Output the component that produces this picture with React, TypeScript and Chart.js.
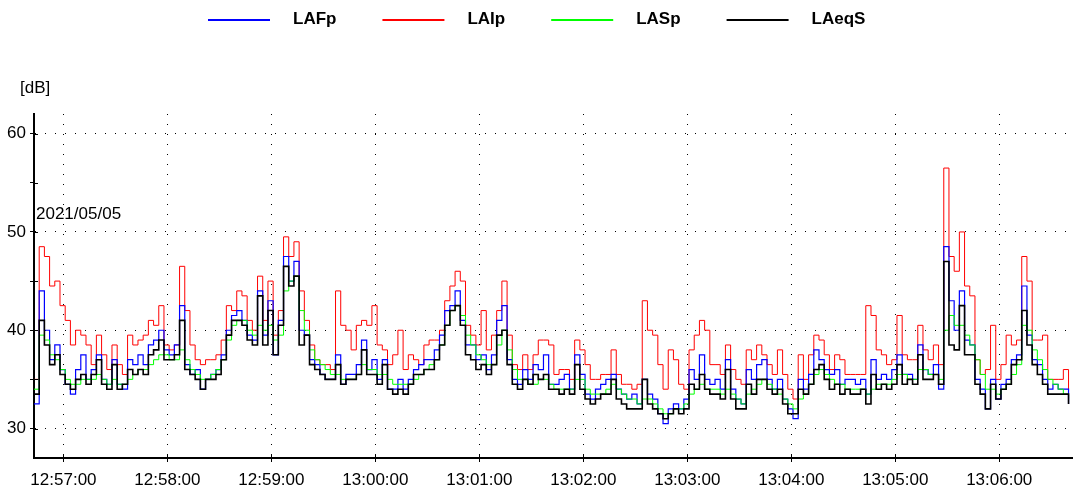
import React, { useEffect, useRef } from "react";
import { Chart, registerables } from "chart.js";

Chart.register(...registerables);

// ---- Data ----
const SERIES_NAMES = ["LAFp", "LAIp", "LASp", "LAeqS"];
const SERIES_COLORS = ["#0000ff", "#ff0000", "#00ff00", "#000000"];
const SERIES_WIDTHS = [1.2, 1, 1, 1.6];

const START_TIME = "12:56:43";
const SAMPLE_STEP_S = 3;
const X_MIN_TIME = "12:56:43";
const X_MAX_TIME = "13:06:42";
const X_TICK_LABELS = [
  "12:57:00", "12:58:00", "12:59:00", "13:00:00", "13:01:00",
  "13:02:00", "13:03:00", "13:04:00", "13:05:00", "13:06:00",
];
const Y_MIN = 27;
const Y_MAX = 62;
const Y_TICKS = [30, 35, 40, 45, 50, 55, 60];
const Y_TICK_LABELS = ["30", "", "40", "", "50", "", "60"];
const UNIT_LABEL = "[dB]";
const DATE_LABEL = "2021/05/05";

const LAFp = [
  32.5, 44.0, 40.0, 37.0, 38.5, 36.0, 34.5, 33.5, 36.0, 37.5,
  35.0, 36.0, 37.5, 35.0, 34.5, 37.0, 34.5, 34.0, 37.0, 36.5,
  37.5, 36.5, 38.5, 39.0, 40.0, 38.0, 37.5, 38.5, 42.5, 36.5,
  35.5, 36.0, 34.0, 35.0, 35.5, 36.0, 37.5, 40.0, 41.5, 42.0,
  41.0, 39.5, 39.0, 44.0, 39.5, 43.0, 37.5, 41.0, 47.5, 45.0,
  47.0, 40.0, 39.5, 37.0, 36.5, 35.5, 35.0, 35.0, 37.5, 34.5,
  35.5, 35.5, 36.5, 39.0, 36.0, 37.0, 35.0, 37.0, 34.0, 34.0,
  35.0, 34.0, 35.0, 36.0, 36.5, 37.0, 37.0, 38.0, 39.5, 42.0,
  42.5, 44.0, 41.0, 38.5, 38.5, 37.0, 37.5, 36.0, 37.5, 41.0,
  42.5, 37.0, 35.0, 34.5, 36.0, 35.0, 36.5, 36.0, 37.5, 34.5,
  34.5, 35.0, 35.5, 34.0, 37.5, 35.5, 33.5, 33.0, 34.0, 34.5,
  35.0, 35.5, 34.0, 33.5, 33.0, 33.5, 32.5, 35.0, 33.5, 33.0,
  31.5, 30.5, 32.0, 32.5, 32.0, 33.0, 36.0, 35.0, 37.5, 35.0,
  34.5, 35.0, 34.0, 37.0, 34.0, 33.0, 32.5, 36.0, 35.0, 36.5,
  37.0, 35.0, 34.0, 35.0, 33.0, 32.0, 31.0, 35.0, 34.0, 35.5,
  38.0, 37.0, 36.0, 35.5, 36.0, 34.5, 35.0, 35.0, 34.5, 35.0,
  33.5, 37.0, 35.0, 35.5, 35.0, 36.0, 37.5, 35.5, 35.5, 35.0,
  38.5, 36.0, 35.5, 36.5, 34.0, 48.5, 43.0, 40.0, 44.0, 39.0,
  38.5, 35.0, 34.0, 32.0, 35.0, 33.0, 34.5, 35.0, 37.0, 37.5,
  44.5, 39.5, 37.0, 36.5, 35.0, 34.0, 34.5, 34.0, 34.0, 32.5,
];

const LAIp = [
  35.0, 48.5, 47.5, 44.5, 45.0, 42.5, 41.0, 38.5, 40.0, 39.5,
  38.5, 36.5, 39.5, 37.5, 36.0, 38.5, 36.5, 35.5, 39.5, 38.5,
  39.0, 39.5, 41.0, 40.5, 42.5, 38.5, 38.0, 38.5, 46.5, 42.0,
  38.5, 37.0, 36.5, 37.0, 37.0, 37.5, 39.0, 42.5, 42.0, 44.0,
  43.5, 41.0, 40.0, 45.5, 41.0, 45.0, 39.5, 42.0, 49.5, 47.5,
  49.0, 44.0, 41.0, 38.5, 37.0, 36.5, 36.5, 36.0, 44.0, 40.5,
  40.0, 38.0, 40.5, 41.0, 40.5, 42.5, 38.5, 38.0, 36.5, 37.5,
  40.0, 36.0, 37.5, 37.0, 36.5, 38.5, 39.0, 39.0, 40.0, 43.0,
  44.5, 46.0, 45.0, 40.5, 39.5, 38.5, 42.0, 38.0, 39.5, 42.0,
  45.0, 39.5, 36.5, 36.0, 37.5, 36.0, 37.5, 39.0, 39.0, 38.5,
  35.5, 36.0, 36.0, 35.0, 39.0, 38.0, 36.5, 35.0, 35.0, 35.5,
  35.5, 38.0, 35.5, 34.5, 34.5, 34.0, 34.5, 43.0, 40.0, 39.5,
  36.5, 34.0, 38.0, 37.0, 34.5, 34.0, 38.0, 39.5, 41.0, 40.0,
  36.5, 36.5, 35.5, 38.5, 36.0, 35.0, 34.5, 38.0, 37.0, 38.5,
  37.5, 36.5, 35.5, 38.0, 35.5, 34.0, 33.0, 37.5, 35.0, 37.5,
  39.5, 39.0, 37.5, 36.0, 37.5, 37.0, 35.5, 35.5, 35.5, 35.5,
  42.5, 41.5, 38.0, 37.5, 36.5, 37.0, 41.5, 37.5, 37.0, 37.0,
  40.5, 38.0, 37.0, 38.5, 36.5, 56.5, 47.5, 46.0, 50.0, 44.5,
  43.5, 37.0, 35.5, 36.0, 40.5, 35.0, 36.5, 39.5, 38.5, 39.0,
  47.5, 45.0, 39.0, 39.0, 39.5, 35.0, 35.0, 35.0, 36.0, 34.0,
];

const LASp = [
  34.0, 39.5, 39.0, 37.5, 37.0, 36.0, 35.0, 34.5, 34.5, 35.0,
  35.0, 35.0, 35.5, 35.0, 34.5, 35.0, 34.5, 34.5, 35.0, 35.5,
  36.0, 36.0, 36.5, 37.0, 37.5, 37.5, 37.0, 37.0, 38.0, 37.0,
  36.0, 35.5, 35.0, 35.0, 35.5, 36.0, 37.0, 39.0, 40.5, 41.0,
  41.0, 40.0, 39.5, 40.5, 40.0, 40.5, 39.0, 39.5, 44.0, 45.0,
  45.5, 42.0, 40.0, 38.0, 37.0, 36.5, 36.0, 35.5, 35.5, 35.0,
  35.0, 35.0, 35.5, 36.5, 36.0, 36.0, 35.5, 35.5, 35.0, 34.5,
  34.5, 34.5, 34.5, 35.0, 35.5, 36.0, 36.5, 37.0, 38.5, 40.5,
  42.0, 42.5, 41.5, 39.5, 38.5, 37.5, 37.0, 36.5, 36.5, 38.5,
  40.0, 38.0, 36.0, 35.0, 35.0, 34.5, 34.5, 35.0, 35.0, 34.5,
  34.0, 34.0, 34.0, 34.0, 35.0, 35.0, 34.0, 33.5, 33.5, 33.5,
  34.0, 34.5, 34.0, 33.5, 33.0, 33.0, 32.5, 33.0, 33.0, 32.5,
  32.0, 31.5, 31.5, 32.0, 32.0, 32.5, 33.5, 34.0, 34.5, 34.0,
  34.0, 34.0, 33.5, 34.0, 33.5, 33.0, 32.5, 33.5, 34.0, 34.5,
  35.0, 34.5, 34.0, 33.5, 33.0, 32.5, 32.0, 33.0, 33.5, 34.5,
  35.5, 36.0, 35.5, 35.0, 34.5, 34.5, 34.0, 34.0, 34.0, 34.0,
  33.5, 34.0, 34.5, 34.5, 34.5, 35.0, 35.5, 35.5, 35.0, 35.0,
  36.0, 36.0, 35.5, 35.5, 35.0, 40.0, 41.5, 40.5, 40.5, 39.5,
  38.5, 37.0, 35.5, 34.0, 34.0, 33.5, 34.0, 34.5, 35.5, 36.5,
  40.5, 40.0, 38.0, 37.0, 36.0, 35.0, 34.5, 34.0, 33.5, 33.0,
];

const LAeqS = [
  33.5, 41.0, 38.5, 36.5, 37.5, 35.5, 34.5, 34.0, 35.0, 35.5,
  34.5, 35.5, 37.0, 34.5, 34.0, 36.5, 34.0, 34.5, 36.0, 35.5,
  36.0, 35.5, 37.5, 38.0, 39.0, 37.0, 37.0, 37.5, 41.0, 36.0,
  35.5, 35.0, 34.0, 35.0, 35.0, 35.5, 37.0, 39.5, 41.0, 41.0,
  40.5, 39.0, 38.5, 43.5, 38.5, 42.0, 37.5, 40.5, 46.5, 44.5,
  45.5, 38.5, 39.5, 36.5, 36.0, 35.5, 35.0, 35.0, 36.5, 34.5,
  35.0, 35.0, 35.5, 38.0, 35.5, 35.5, 34.5, 36.5, 34.0, 33.5,
  34.0, 33.5, 34.5, 35.5, 35.5, 36.0, 36.0, 37.0, 38.5, 40.5,
  42.0, 42.5, 40.5, 37.5, 37.0, 36.0, 36.5, 35.5, 36.5, 39.5,
  40.0, 36.5, 34.5, 34.0, 35.0, 34.5, 35.5, 35.0, 35.5, 34.0,
  34.0, 33.5, 34.0, 33.5, 36.5, 34.0, 33.0, 32.5, 33.0, 33.5,
  33.5, 35.0, 33.0, 32.5, 32.0, 32.0, 32.0, 35.0, 32.5, 32.0,
  31.5, 31.0, 31.5, 32.0, 31.5, 32.0, 34.5, 34.0, 35.5, 34.0,
  33.5, 33.5, 33.0, 36.0, 33.0, 32.0, 32.0, 34.5, 33.5, 35.0,
  35.0, 34.0, 33.5, 34.0, 32.5, 31.5, 31.5, 34.0, 33.5, 34.5,
  36.0, 36.5, 35.0, 34.0, 34.5, 33.5, 34.0, 33.5, 33.5, 34.0,
  32.5, 35.5, 34.0, 34.5, 34.0, 34.5, 36.5, 34.5, 35.0, 34.5,
  37.5, 35.0, 35.0, 35.5, 34.5, 47.0, 38.5, 38.0, 42.5, 37.5,
  37.5, 34.5, 33.5, 32.0, 34.5, 33.0, 34.0, 34.5, 36.5, 37.0,
  42.0, 38.5, 36.5, 35.5, 34.5, 33.5, 33.5, 33.5, 33.5, 32.5,
];

const SERIES_VALUES = [LAFp, LAIp, LASp, LAeqS];
const DRAW_ORDER = [2, 3, 1, 0]; // lower = drawn on top

// ---- helpers ----
const toSec = (s: string) => {
  const [h, m, sec] = s.split(":").map(Number);
  return h * 3600 + m * 60 + sec;
};
const pad2 = (n: number) => String(n).padStart(2, "0");
const fmtTime = (v: number) => {
  const h = Math.floor(v / 3600);
  const m = Math.floor((v % 3600) / 60);
  const s = Math.round(v % 60);
  return `${pad2(h)}:${pad2(m)}:${pad2(s)}`;
};

const FONT = "'Liberation Sans', Arial, sans-serif";

const decorPlugin = {
  id: "decor",
  afterDraw(chart: any) {
    const { ctx, chartArea, scales } = chart;
    ctx.save();
    // inner tick marks (ticks cross the axes)
    ctx.strokeStyle = "#000";
    ctx.lineWidth = 1;
    scales.x.ticks.forEach((t: any) => {
      const px = Math.round(scales.x.getPixelForValue(t.value)) + 0.5;
      ctx.beginPath();
      ctx.moveTo(px, chartArea.bottom);
      ctx.lineTo(px, chartArea.bottom - 4);
      ctx.stroke();
    });
    scales.y.ticks.forEach((t: any) => {
      const py = Math.round(scales.y.getPixelForValue(t.value)) + 0.5;
      ctx.beginPath();
      ctx.moveTo(chartArea.left, py);
      ctx.lineTo(chartArea.left + 4, py);
      ctx.stroke();
    });

    // unit and date labels
    ctx.fillStyle = "#000";
    ctx.font = `17px ${FONT}`;
    ctx.textAlign = "left";
    ctx.textBaseline = "middle";
    ctx.fillText(UNIT_LABEL, 20, chartArea.top - 26);
    ctx.fillText(DATE_LABEL, chartArea.left + 2, chartArea.top + 100);

    // legend
    const lineLen = 62;
    const textGap = 23;
    const itemGap = 46;
    ctx.font = `bold 17px ${FONT}`;
    const widths = SERIES_NAMES.map(
      (n) => lineLen + textGap + ctx.measureText(n).width
    );
    const total = widths.reduce((a, b) => a + b, 0) + itemGap * (widths.length - 1);
    let x = Math.round((chart.width - total) / 2);
    const ly = 19;
    SERIES_NAMES.forEach((n, i) => {
      ctx.strokeStyle = SERIES_COLORS[i];
      ctx.lineWidth = 2;
      ctx.beginPath();
      ctx.moveTo(x, ly + 1);
      ctx.lineTo(x + lineLen, ly + 1);
      ctx.stroke();
      ctx.fillStyle = "#000";
      ctx.fillText(n, x + lineLen + textGap, ly);
      x += widths[i] + itemGap;
    });
    ctx.restore();
  },
};

export default function App() {
  const ref = useRef<HTMLCanvasElement | null>(null);

  useEffect(() => {
    if (!ref.current) return;
    const start = toSec(START_TIME);
    const datasets = SERIES_NAMES.map((name, k) => ({
      label: name,
      data: SERIES_VALUES[k].map((v, i) => ({ x: start + i * SAMPLE_STEP_S, y: v })),
      borderColor: SERIES_COLORS[k],
      backgroundColor: SERIES_COLORS[k],
      borderWidth: SERIES_WIDTHS[k],
      pointRadius: 0,
      stepped: true,
      fill: false,
      order: DRAW_ORDER[k],
    }));

    const chart = new Chart(ref.current, {
      type: "line",
      data: { datasets },
      options: {
        animation: false,
        responsive: false,
        layout: { padding: { top: 114, right: 1, left: 0, bottom: 0 } },
        plugins: {
          legend: { display: false },
          tooltip: { enabled: false },
          title: { display: false },
        },
        scales: {
          x: {
            type: "linear",
            min: toSec(X_MIN_TIME),
            max: toSec(X_MAX_TIME),
            afterBuildTicks: (scale: any) => {
              scale.ticks = X_TICK_LABELS.map((l) => ({ value: toSec(l) }));
            },
            afterFit: (scale: any) => {
              scale.height = 36;
            },
            ticks: {
              autoSkip: false,
              maxRotation: 0,
              color: "#000",
              padding: 8,
              font: { family: FONT, size: 17 },
              callback: (v: any) => fmtTime(Number(v)),
            },
            grid: {
              color: "#000",
              lineWidth: 1,
              tickLength: 4,
              tickColor: "#000",
            },
            border: { display: true, color: "#000", width: 2, dash: [1, 9] },
          },
          y: {
            type: "linear",
            min: Y_MIN,
            max: Y_MAX,
            afterBuildTicks: (scale: any) => {
              scale.ticks = Y_TICKS.map((v) => ({ value: v }));
            },
            afterFit: (scale: any) => {
              scale.width = 34;
            },
            ticks: {
              autoSkip: false,
              color: "#000",
              padding: 4,
              font: { family: FONT, size: 17 },
              callback: (v: any) => {
                const idx = Y_TICKS.indexOf(Number(v));
                return idx >= 0 ? Y_TICK_LABELS[idx] : "";
              },
            },
            grid: {
              color: (c: any) =>
                c.tick && Y_TICK_LABELS[Y_TICKS.indexOf(c.tick.value)] ? "#000" : "rgba(0,0,0,0)",
              lineWidth: 1,
              tickLength: 4,
              tickColor: "#000",
            },
            border: { display: true, color: "#000", width: 2, dash: [1, 9] },
          },
        },
      },
      plugins: [decorPlugin],
    } as any);

    return () => chart.destroy();
  }, []);

  return (
    <div style={{ position: "fixed", left: 0, top: 0, width: 1073, height: 494, background: "#fff" }}>
      <canvas ref={ref} width={1073} height={494} style={{ display: "block" }} />
    </div>
  );
}
